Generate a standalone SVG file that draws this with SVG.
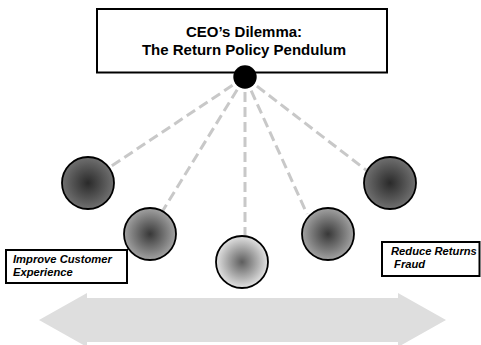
<svg xmlns="http://www.w3.org/2000/svg" width="481" height="345" viewBox="0 0 481 345">
  <style>
    .frame { fill: #ffffff; stroke: #000000; stroke-width: 2; }
    .title { font-family: "Liberation Sans", Arial, sans-serif; font-weight: bold; font-size: 15px; fill: #000000; text-anchor: middle; }
    .label { font-family: "Liberation Sans", Arial, sans-serif; font-weight: bold; font-style: italic; font-size: 11.2px; fill: #000000; }
    .string { stroke: #c8c8c8; stroke-width: 3; stroke-dasharray: 10 5; fill: none; }
    .bob { stroke: #000000; stroke-width: 1.8; }
  </style>
  <defs>
    <radialGradient id="bobDark" cx="50%" cy="50%" r="50%">
      <stop offset="0" stop-color="#2a2a2a"/>
      <stop offset="1" stop-color="#707070"/>
    </radialGradient>
    <radialGradient id="bobMid" cx="50%" cy="50%" r="50%">
      <stop offset="0" stop-color="#383838"/>
      <stop offset="1" stop-color="#a2a2a2"/>
    </radialGradient>
    <radialGradient id="bobLight" cx="50%" cy="50%" r="50%">
      <stop offset="0" stop-color="#5e5e5e"/>
      <stop offset="1" stop-color="#e2e2e2"/>
    </radialGradient>
  </defs>

  <!-- spectrum arrow along the bottom -->
  <polygon id="spectrum" fill="#dedede" points="39,320 87,293 87,298 398,298 398,293 446,320 398,347 398,342 87,342 87,347"/>

  <g id="title-box">
    <rect class="frame" x="97" y="9" width="290" height="63.5"/>
    <text class="title" x="244" y="37">CEO’s Dilemma:</text>
    <text class="title" x="244" y="55">The Return Policy Pendulum</text>
  </g>

  <!-- pendulum strings -->
  <g id="connectors">
    <line class="string" x1="245" y1="77" x2="110" y2="167"/>
    <line class="string" x1="245" y1="77" x2="162" y2="212"/>
    <line class="string" x1="245" y1="77" x2="245" y2="236"/>
    <line class="string" x1="245" y1="77" x2="307" y2="214"/>
    <line class="string" x1="245" y1="77" x2="370" y2="173"/>
  </g>

  <g id="pivot">
    <circle cx="245" cy="77" r="11.7" fill="#000000"/>
  </g>

  <g id="bob-far-left">
    <circle class="bob" cx="88" cy="183" r="26" fill="url(#bobDark)"/>
  </g>
  <g id="bob-left">
    <circle class="bob" cx="150" cy="234" r="26" fill="url(#bobMid)"/>
  </g>
  <g id="bob-center">
    <circle class="bob" cx="242" cy="262" r="26" fill="url(#bobLight)"/>
  </g>
  <g id="bob-right">
    <circle class="bob" cx="328" cy="234" r="26" fill="url(#bobMid)"/>
  </g>
  <g id="bob-far-right">
    <circle class="bob" cx="390" cy="183" r="26" fill="url(#bobDark)"/>
  </g>

  <g id="label-customer">
    <rect class="frame" x="6" y="250" width="121" height="33"/>
    <text class="label" x="13" y="263">Improve Customer</text>
    <text class="label" x="13" y="276">Experience</text>
  </g>

  <g id="label-fraud">
    <rect class="frame" x="382" y="242" width="97.5" height="34"/>
    <text class="label" x="391" y="255">Reduce Returns</text>
    <text class="label" x="391" y="268" xml:space="preserve"> Fraud</text>
  </g>
</svg>
